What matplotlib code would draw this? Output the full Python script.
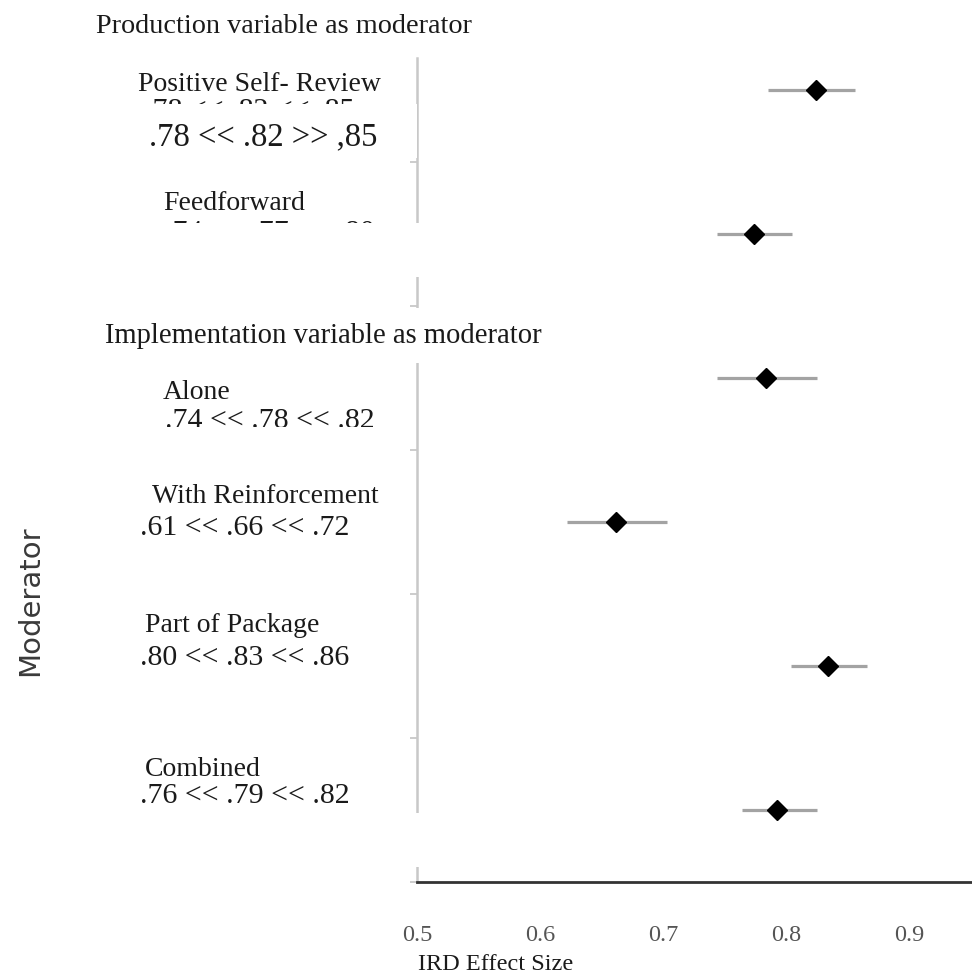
import matplotlib.pyplot as plt
from matplotlib.patches import Rectangle

# forest plot data
moderators = ["Positive Self- Review", "Feedforward", "Alone",
              "With Reinforcement", "Part of Package", "Combined"]
effect = [0.824, 0.774, 0.784, 0.662, 0.834, 0.793]
ci_low = [0.785, 0.744, 0.744, 0.622, 0.804, 0.764]
ci_high = [0.856, 0.805, 0.825, 0.703, 0.866, 0.825]
ci_text = [".78 << .82 << .85", ".74 << .77 << .80", ".74 << .78 << .82",
           ".61 << .66 << .72", ".80 << .83 << .86", ".76 << .79 << .82"]
pasted_ci = ".78 << .82 >> ,85"
groups = ["Production variable as moderator", "Implementation variable as moderator"]
xticks = [0.5, 0.6, 0.7, 0.8, 0.9]

W, H = 972, 980
SERIF = "Liberation Serif"
TXT = "#1a1a1a"


def fx(x):
    return x / W


def fy(y):
    return 1 - y / H


def put(x, y, s, size=20, z=3, **kw):
    fig.text(fx(x), fy(y), s, family=SERIF, fontsize=size, color=TXT,
             va="baseline", ha="left", zorder=z, **kw)


def white_box(x0, y0, x1, y1):
    fig.add_artist(Rectangle((fx(x0), fy(y1)), (x1 - x0) / W, (y1 - y0) / H,
                             transform=fig.transFigure, facecolor="white",
                             edgecolor="none", zorder=2))


fig = plt.figure(figsize=(9.72, 9.8), dpi=100)
ax = fig.add_axes([fx(417), fy(882), 1 - fx(417), (882 - 58) / H])

rows = list(range(len(moderators)))
ax.hlines(rows, ci_low, ci_high, color="#a3a3a3", lw=2.3, zorder=2)
ax.plot(effect, rows, "D", color="black", ms=10, ls="none", zorder=3)

ax.set_xlim(0.5, 0.5 + (W - 417) / 1230)
ax.set_ylim(5.5, -0.223)
ax.set_yticks([r + 0.5 for r in rows])
ax.set_yticklabels([])
ax.set_xticks(xticks)
ax.set_xticklabels([f"{t:.1f}" for t in xticks], family=SERIF, fontsize=17.5, color="#555555")
ax.tick_params(axis="x", length=0, pad=31)
ax.tick_params(axis="y", length=5, width=1.3, color="#c8c8c8")
for s in ["top", "right"]:
    ax.spines[s].set_visible(False)
ax.spines["left"].set_color("#c8c8c8")
ax.spines["left"].set_linewidth(1.8)
ax.spines["bottom"].set_color("#333333")
ax.spines["bottom"].set_linewidth(2)

# label layout (left x, baseline y) in pixels
label_pos = [(138, 91), (163, 210), (163, 399), (152, 503), (145, 632), (145, 776)]
ci_pos = [(145, 118), (165, 240), (165, 428), (140, 535), (140, 665), (140, 803)]

for name, (x, y) in zip(moderators, label_pos):
    put(x, y, name)
for t, (x, y) in zip(ci_text, ci_pos):
    put(x, y, t, size=21.5, z=1.5)

# pasted-over pieces of the original figure
white_box(140, 104, 417, 158)
white_box(100, 223, 460, 277)
white_box(100, 308, 560, 363)
white_box(140, 427, 400, 445)
white_box(100, 813, 430, 867)

put(149, 145, pasted_ci, size=23.5)
put(96, 33, groups[0], size=20.3)
put(105, 343, groups[1], size=20.6)

fig.text(fx(30), fy(601), "Moderator", family="DejaVu Sans", fontsize=21,
         color="#3a3a3a", rotation=90, ha="center", va="center")
fig.text(fx(496), fy(964), "IRD Effect Size", family=SERIF, fontsize=17.5,
         color=TXT, ha="center", va="center")

fig.savefig("out.png", dpi=100)
